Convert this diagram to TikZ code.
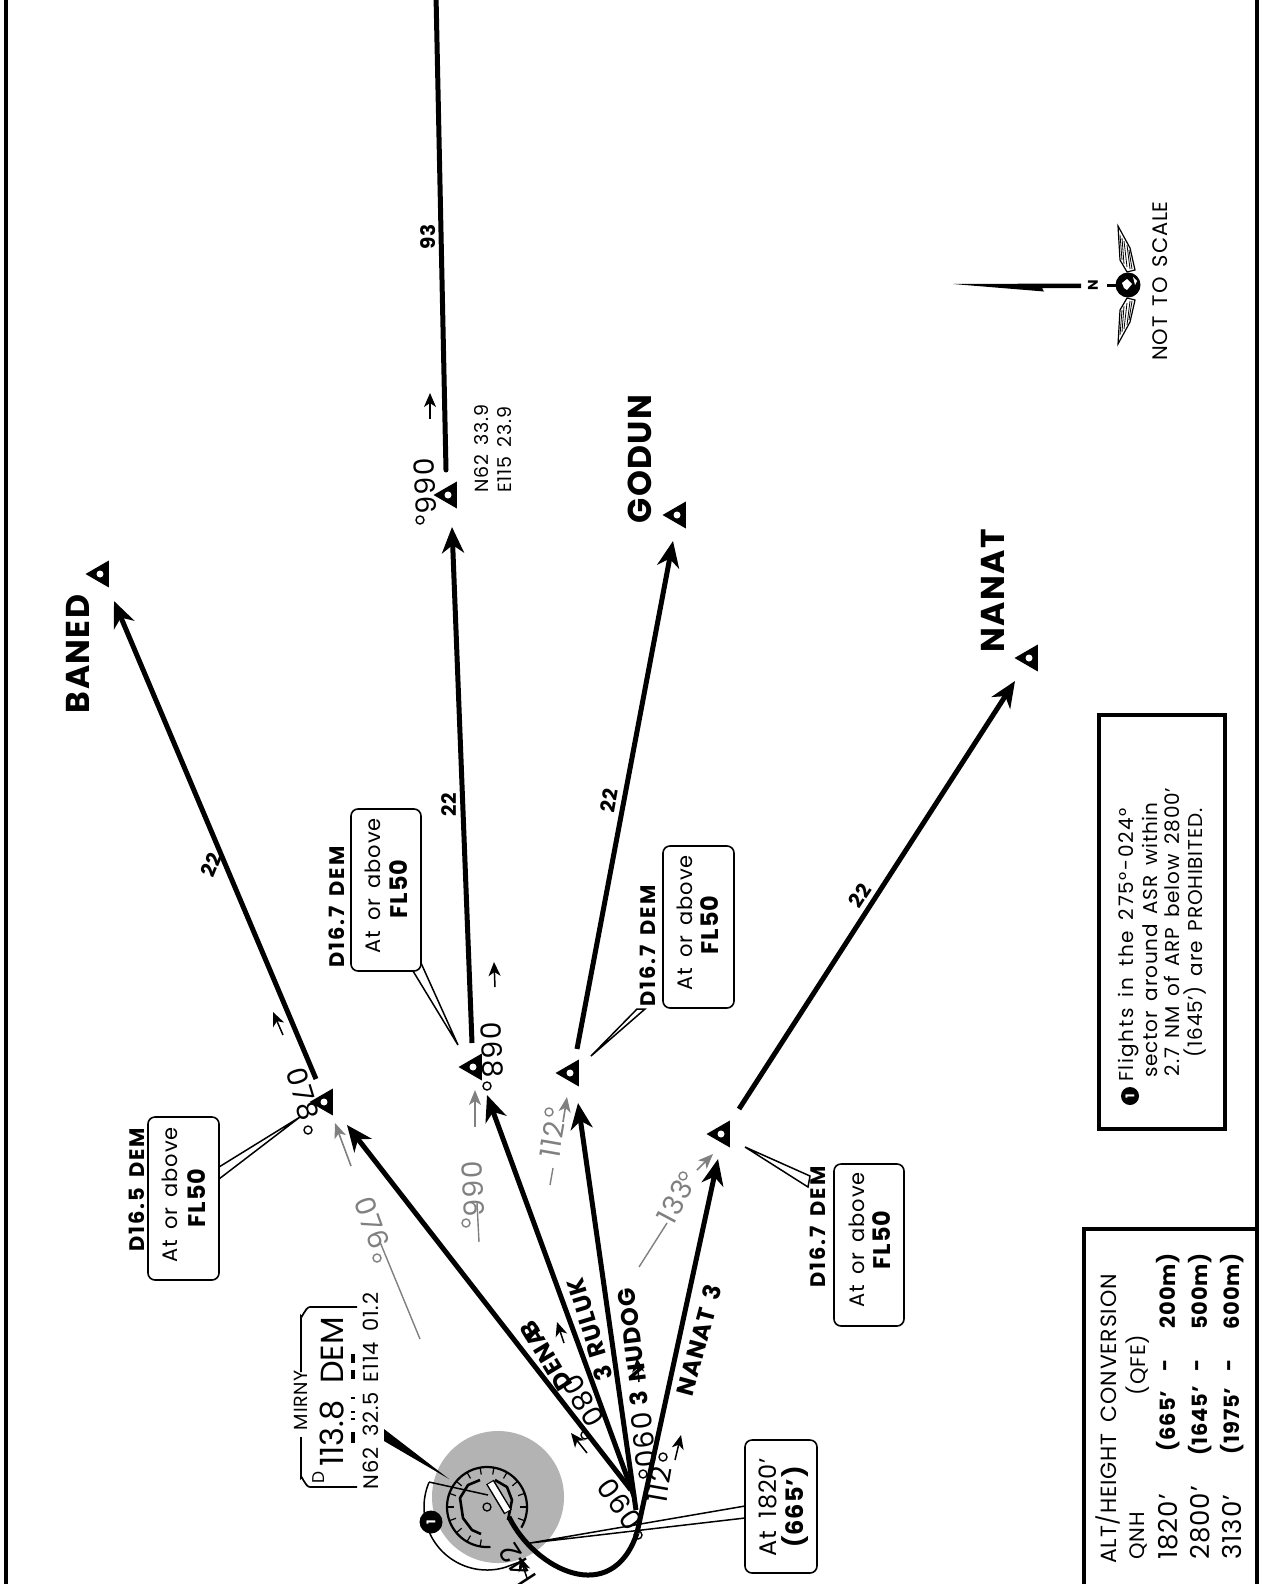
\documentclass[tikz,border=0pt]{standalone}
\usepackage{fontspec}
\setmainfont{Poppins}[LetterSpace=4,WordSpace=1.6]
\newfontfamily\tightf{Poppins}[WordSpace=2]
\usetikzlibrary{arrows.meta,shapes.geometric}
\newcommand{\fsz}[1]{\fontsize{#1pt}{#1pt}\selectfont}
\definecolor{gr}{HTML}{808080}
\definecolor{ringg}{HTML}{B3B3B3}
\tikzset{
 route/.style={line width=5pt,black},
 routetip/.style={route,-{Stealth[length=26pt,width=22pt,inset=8pt]}},
 routeline/.style={route,line cap=round},
 smallarr/.style={line width=1.5pt,-{Stealth[length=14pt,width=12pt,inset=4pt]}},
 grayarr/.style={line width=1.6pt,gr,-{Stealth[length=15pt,width=12pt,inset=4pt]}},
 thin line/.style={line width=1.5pt},
 grayline/.style={line width=1.4pt,gr},
 tx/.style={inner sep=0pt,rotate=90,font=\fsz{#1}},
 tb/.style={inner sep=0pt,rotate=90,font=\fsz{#1}\bfseries},
 cbl/.style={inner sep=0pt,rotate=90,font=\fsz{21}\bfseries\addfontfeature{LetterSpace=9}},
 txw/.style={tx=#1,anchor=west},
 txe/.style={tx=#1,anchor=east},
 tbw/.style={tb=#1,anchor=west},
 tbe/.style={tb=#1,anchor=east},
 deg/.style={inner sep=0pt,font=\fsz{28}},
 wp/.style={regular polygon,regular polygon sides=3,shape border rotate=90,fill=black,inner sep=0pt,minimum size=31pt},
 wpdot/.style={circle,fill=white,inner sep=0pt,minimum size=7pt},
 degc/.style={circle,draw,line width=1.4pt,inner sep=0pt,minimum size=8pt,fill=none},
 callbox/.style={draw=black,line width=1.6pt,rounded corners=7pt},
 badge/.style={circle,fill=black,text=white,inner sep=0pt,rotate=90,font=\fsz{12}\bfseries},
}
\begin{document}
\begin{tikzpicture}[x=1pt,y=-1pt]
\useasboundingbox (0,0) rectangle (1262,1584);
\clip (0,0) rectangle (1262,1584);
\fill[white] (0,0) rectangle (1262,1584);
% frame
\draw[line width=4.5pt] (6,0) -- (6,1584);
\draw[line width=4.5pt] (1257,0) -- (1257,1584);
% beacon
\fill[ringg] (498,1497) circle (66);
\draw[line width=2.2pt] plot[domain=-31:275,samples=70] ({487+40*cos(\x)},{1507-40*sin(\x)});
\foreach \a in {-20,0,...,260} \draw[line width=1.2pt] ({487+40*cos(\a)},{1507-40*sin(\a)}) -- ({487+33*cos(\a)},{1507-33*sin(\a)});
\draw[line width=2.6pt,line join=round] (480,1480) -- (468,1485) -- (460,1498) -- (463,1518) -- (472,1530) -- (481,1534);
\draw[line width=2.6pt,line join=round] (495,1480) -- (507,1487) -- (512,1500) -- (508,1520);
\draw[line width=1.3pt] (487,1507) circle (4);
\coordinate (dmetip) at (384,1429);
\fill (dmetip) -- (384,1441) -- (449,1479) -- cycle;
\draw[line width=1.5pt] (429,1482) -- (488,1495);
\draw[line width=1.5pt] plot[domain=157:287,samples=50] ({487+63*cos(\x)},{1507-63*sin(\x)}) -- (522,1561);
\draw[line width=9pt] (490,1482) -- (508,1512);
\draw[line width=6pt,white] (490.5,1483) -- (507.5,1511);
\node[badge,minimum size=23pt] (b1) at (431,1522) {1};
% hub and routes
\coordinate (hub) at (637,1533);
\coordinate (hub1) at (631,1490);
\coordinate (hub2) at (634,1496);
\coordinate (hub3) at (636,1510);
\coordinate (racetrack) at (509,1517);
\coordinate (t1) at (347,1125);
\coordinate (t2) at (487,1095);
\coordinate (t3) at (578,1103);
\coordinate (t4) at (718,1159);
\draw[route] (racetrack) .. controls (535,1570) and (612,1608) .. (hub);
\draw[routetip] (hub1) -- (t1);
\draw[routetip] (hub2) -- (t2);
\draw[routetip] (hub3) -- (t3);
\draw[routetip] (hub) -- (t4);
\coordinate (a1) at (316,1079); \coordinate (a2) at (114,601);
\coordinate (b1s) at (472,1043); \coordinate (b2) at (452,527);
\coordinate (c1) at (446,470); \coordinate (c2) at (436,-5);
\coordinate (d1) at (577,1049); \coordinate (d2) at (673,541);
\coordinate (e1) at (739,1109); \coordinate (e2) at (1015,681);
\draw[routetip] (a1) -- (a2);
\draw[routetip] (b1s) -- (b2);
\draw[routeline] (c1) -- (c2);
\draw[routetip] (d1) -- (d2);
\draw[routetip] (e1) -- (e2);
% waypoints
\foreach \n/\x/\y in {w1/101/574,w2/449/495,w3/678/515,w4/1030/658,w5/325/1102,w6/474/1067,w7/571/1073,w8/722/1134}{
 \node[wp] (\n) at (\x,\y) {};
 \node[wpdot] (\n d) at (\x-1,\y) {};
}
% waypoint names
\node[tb=33] (nbaned) at (78,654) {BANED};
\node[tb=33] (ngodun) at (640,459) {GODUN};
\node[tb=33] (nnanat) at (993,591) {NANAT};
% distances
\node[tb=20,rotate=-22] (d22a) at (211,865) {22};
\node[tb=20] (d22b) at (449,805) {22};
\node[tb=20,rotate=-10] (d22c) at (609,801) {22};
\node[tb=20,rotate=-33] (d22d) at (860,896) {22};
\node[tb=20] (d93) at (428,237) {93};
% coordinates of waypoint
\node[txw=19] (n6233) at (482,493) {N62 33.9};
\node[txw=19] (e11523) at (505,493) {E115 23.9};
% route names
\node[tb=24,rotate=-15] (rnanat) at (699,1340) {NANAT 3};
\node[tb=24,rotate=7] (rnudog) at (633,1347) {3 NUDOG};
\node[tb=24,rotate=17] (rrul) at (590,1330) {3 RULUK};
\node[tb=24,rotate=31] (rden) at (546,1356) {DENA\kern-8pt B};
% bearing labels black
\node[deg,rotate=-88] (l068) at (492,1050) {068};
\node[degc] (l068c) at (487,1086) {};
\node[deg,rotate=-88] (l066) at (425,486) {066};
\node[degc] (l066c) at (420,520) {};
\node[deg,rotate=-73] (l078) at (303,1094) {078};
\node[degc] (l078c) at (308,1130) {};
\node[deg,rotate=80] (l112) at (659,1485) {112};
\node[degc] (l112c) at (663,1457) {};
\node[deg,rotate=-83] (l090) at (644,1440) {090};
\node[degc] (l090c) at (643,1474) {};
\node[deg,rotate=-59] (l080) at (583,1401) {080};
\node[degc] (l080c) at (585,1435) {};
\node[deg,rotate=-55] (l060) at (620,1504) {060};
\node[degc] (l060c) at (638,1535) {};
\node[deg,rotate=123] (l142) at (518,1565) {142};
% bearing labels gray
\node[deg,text=gr,rotate=-88] (g066) at (473,1189) {066};
\node[degc,draw=gr] (g066c) at (466,1223) {};
\node[deg,text=gr,rotate=-70] (g076) at (372,1223) {076};
\node[degc,draw=gr] (g076c) at (377,1258) {};
\node[deg,text=gr,rotate=80] (g112) at (552,1140) {112};
\node[degc,draw=gr] (g112c) at (549,1112) {};
\node[deg,text=gr,rotate=62] (g133) at (675,1202) {133};
\node[degc,draw=gr] (g133c) at (683,1176) {};
% gray leaders
\coordinate (gl1a) at (479,1242); \coordinate (gl1b) at (477,1203);
\coordinate (gl2a) at (380,1242); \coordinate (gl2b) at (420,1339);
\coordinate (gl3a) at (550,1185); \coordinate (gl3b) at (553,1168);
\coordinate (gl4a) at (639,1267); \coordinate (gl4b) at (667,1223);
\draw[grayline] (gl1a) -- (gl1b);
\draw[grayline] (gl2a) -- (gl2b);
\draw[grayline] (gl3a) -- (gl3b);
\draw[grayline] (gl4a) -- (gl4b);
\coordinate (ga1) at (351,1166); \coordinate (ga1e) at (335,1123);
\coordinate (ga2) at (475,1127); \coordinate (ga2e) at (475,1090);
\coordinate (ga3) at (563,1122); \coordinate (ga3e) at (567,1097);
\coordinate (ga4) at (697,1170); \coordinate (ga4e) at (713,1154);
\draw[grayarr] (ga1) -- (ga1e);
\draw[grayarr] (ga2) -- (ga2e);
\draw[grayarr] (ga3) -- (ga3e);
\draw[grayarr] (ga4) -- (ga4e);
% small black arrows
\foreach \i/\xa/\ya/\xb/\yb in {1/283/1035/273/1012,2/495/987/494/962,3/430/419/430/393,4/564/1343/557/1322,5/639/1382/637/1358,6/587/1453/571/1433,7/675/1460/681/1435,8/527/1578/520/1557}{
 \coordinate (sa\i s) at (\xa,\ya);
 \coordinate (sa\i e) at (\xb,\yb);
 \draw[smallarr] (sa\i s) -- (sa\i e);
}
% MIRNY box
\draw[line width=1.7pt] (357,1307) -- (310,1307) to[out=180,in=-90] (301,1316) -- (301,1372);
\draw[line width=1.7pt] (301,1437) -- (301,1478) to[out=90,in=180] (310,1487) -- (357,1487);
\node[tx=19] (mirny) at (301,1400) {MIRNY};
\node[tx=33,font=\fsz{32}\tightf] (freq) at (332,1392) {113.8 DEM};
\node[tx=17] (dd) at (319,1477) {D};
\foreach \ya/\yb in {1432/1443,1418/1420,1411/1413,1397/1399,1370/1379,1354/1363}
 \fill (351,\ya) rectangle (355,\yb);
\node[tx=21] (mircoord) at (371,1391) {N62 32.5 E114 01.2};
% callouts
\node[cbl] (cb1l) at (137,1190) {D16.5 DEM};
\draw[callbox,fill=white] (148,1117) rectangle (219,1280);
\draw[thin line] (219,1167) -- (300,1117) -- (219,1179);
\node[tx=21] (cb1a) at (170,1195) {At or above};
\node[tb=24] (cb1b) at (197,1198) {FL50};
\node[cbl] (cb2l) at (337,907) {D16.7 DEM};
\draw[callbox,fill=white] (351,809) rectangle (421,971);
\draw[thin line] (421,963) -- (458,1045) -- (413,971);
\node[tx=21] (cb2a) at (373,886) {At or above};
\node[tb=24] (cb2b) at (399,889) {FL50};
\node[cbl] (cb3l) at (648,946) {D16.7 DEM};
\draw[callbox,fill=white] (663,846) rectangle (734,1008);
\draw[thin line] (645,1009) -- (591,1056) -- (637,1009) -- cycle;
\node[tx=21] (cb3a) at (685,923) {At or above};
\node[tb=24] (cb3b) at (710,925) {FL50};
\node[cbl] (cb4l) at (818,1227) {D16.7 DEM};
\draw[callbox,fill=white] (834,1164) rectangle (904,1326);
\draw[thin line] (810,1176) -- (745,1147) -- (808,1187) -- cycle;
\node[tx=21] (cb4a) at (857,1240) {At or above};
\node[tb=24] (cb4b) at (882,1240) {FL50};
% altitude callout
\draw[thin line] (745,1506) -- (530,1543) -- (745,1518);
\draw[callbox,fill=white] (745,1440) rectangle (817,1573);
\node[tx=24] (alt1) at (768,1507) {At 1820’};
\node[tb=24] (alt2) at (795,1507) {(665’)};
% info box
\draw[line width=3.5pt] (1099,715) rectangle (1225,1129);
\node[badge,minimum size=18pt] (b2) at (1130,1096) {1};
\node[tx=20,font=\fsz{20}\addfontfeature{LetterSpace=8}] (i1) at (1129,945) {Flights in the 275°-024°};
\node[tx=20] (i2) at (1150,940) {sector around ASR within};
\node[tx=20] (i3) at (1172,932) {2.7 NM of ARP below 2800’};
\node[tx=20] (i4) at (1195,933) {(1645’) are PROHIBITED.};
% table
\draw[line width=4pt] (1084,1584) -- (1084,1229) -- (1257,1229);
\node[tx=22] (tt) at (1108,1419) {ALT/HEIGHT CONVERSION};
\node[txw=21] (tq) at (1138,1560) {QNH};
\node[tx=21] (tq2) at (1138,1365) {(QFE)};
\foreach \n/\x/\a/\b/\c in {r1/1168/1820/665/200m,r2/1200/2800/1645/500m,r3/1232/3130/1975/600m}{
 \node[txw=26] (\n a) at (\x,1560) {\a’};
 \node[tb=21] (\n b) at (\x,1421) {(\b’};
 \node[tb=21] (\n c) at (\x,1365) {-};
 \node[tbe=21] (\n d) at (\x,1253) {\c)};
}
% north symbol
\fill (953,284) -- (1081,283.5) -- (1081,288) -- (1042,288) -- (1044,291.5) -- cycle;
\node[tb=14] (nn) at (1093,285) {N};
\draw[line width=3pt] (1107,285) -- (1117,285);
\foreach \s in {1,-1}{
 \draw[line width=1.2pt,fill=white] (1118,{285-59*\s}) -- (1130,{285-37*\s}) -- (1135,{285-15*\s}) -- (1127,{285-13*\s}) -- (1120,{285-25*\s}) -- cycle;
 \draw[line width=.8pt] (1120,{285-50*\s}) -- (1122,{285-25*\s});
 \draw[line width=.8pt] (1122,{285-47*\s}) -- (1124,{285-21*\s});
 \draw[line width=.8pt] (1124,{285-44*\s}) -- (1127,{285-18*\s});
 \draw[line width=.8pt] (1127,{285-40*\s}) -- (1130,{285-16*\s});
 \draw[line width=.8pt] (1129,{285-35*\s}) -- (1132,{285-16*\s});
}
\fill (1128,285) circle (12.5);
\fill[white] (1122,283) -- (1127,279) -- (1132,284) -- (1127,290) -- (1124,288) -- cycle;
\fill[white] (1133,277) -- (1137,281) -- (1135,285) -- cycle;
\node[tx=21] (nts) at (1160,281) {NOT TO SCALE};
\end{tikzpicture}
\end{document}
